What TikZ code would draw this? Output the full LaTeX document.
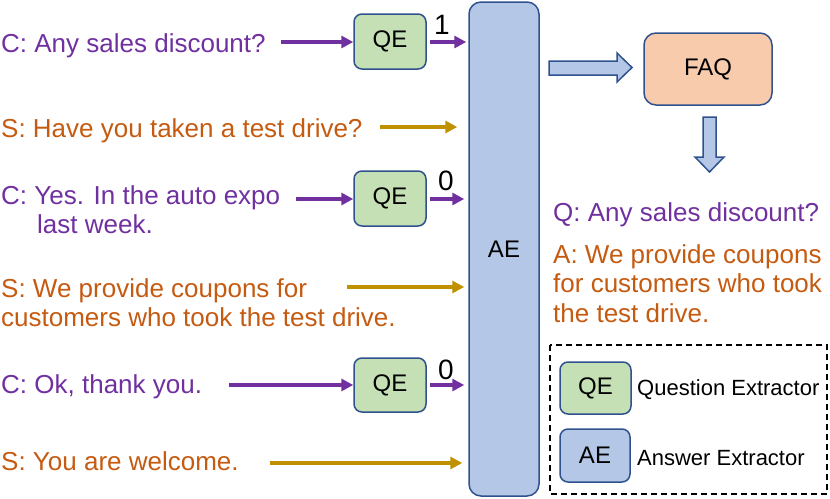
\documentclass[tikz,border=0pt]{standalone}
\usepackage{fontspec}
\setmainfont{Liberation Sans}
\usetikzlibrary{arrows.meta}
\definecolor{pur}{HTML}{7030A0}
\definecolor{org}{HTML}{C55A11}
\definecolor{gld}{HTML}{BF9000}
\definecolor{bdr}{HTML}{2F528F}
\definecolor{aefill}{HTML}{B4C7E7}
\definecolor{qefill}{HTML}{C5E0B4}
\definecolor{faqfill}{HTML}{F8CBAD}
\begin{document}
\begin{tikzpicture}[x=1pt,y=-1pt,
  ctext/.style={anchor=base west, inner sep=0pt, text=pur, font=\fontsize{26}{30}\selectfont},
  stext/.style={anchor=base west, inner sep=0pt, text=org, font=\fontsize{26}{30}\selectfont},
  qebox/.style={draw=bdr, fill=qefill, line width=1.5pt, rounded corners=8pt, minimum width=72pt, minimum height=55pt, inner sep=0pt, font=\fontsize{24}{28}\selectfont},
  aebox/.style={draw=bdr, fill=aefill, line width=1.5pt, rounded corners=12pt, inner sep=0pt, font=\fontsize{24}{28}\selectfont},
  faqbox/.style={draw=bdr, fill=faqfill, line width=1.5pt, rounded corners=12pt, inner sep=0pt, font=\fontsize{24}{28}\selectfont},
  parrow/.style={draw=pur, line width=4pt, -{Triangle[length=12pt,width=12pt]}},
  garrow/.style={draw=gld, line width=3.5pt, -{Triangle[length=12pt,width=12pt]}},
  digit/.style={inner sep=0pt, font=\fontsize{28}{30}\selectfont},
  blockarrow/.style={draw=bdr, fill=aefill, line width=1.5pt, line join=miter},
  legtext/.style={anchor=west, inner sep=0pt, font=\fontsize{22}{26}\selectfont}
]
\useasboundingbox (0,0) rectangle (830,498);

% AE column
\node[aebox, minimum width=70pt, minimum height=494pt] (ae) at (504,249) {AE};

% QE boxes
\node[qebox] (qe1) at (390,41.5) {QE};
\node[qebox] (qe2) at (390,198.5) {QE};
\node[qebox, minimum height=54pt] (qe3) at (390,385) {QE};

% dialogue texts
\node[ctext] (c1) at (1,52) {C: Any sales discount?};
\node[stext] (s1) at (1,137) {S: Have you taken a test drive?};
\node[ctext] (c2a) at (1,204) {C: Yes. In the auto expo};
\node[ctext] (c2b) at (37,233) {last week.};
\node[stext] (s2a) at (1,297) {S: We provide coupons for};
\node[stext] (s2b) at (1,326) {customers who took the test drive.};
\node[ctext] (c3) at (1,393) {C: Ok, thank you.};
\node[stext] (s3) at (1,470) {S: You are welcome.};

% arrow start points
\coordinate (pc1) at (281,42);
\coordinate (pc2) at (296,199);
\coordinate (pc3) at (229,385);
\coordinate (gs1) at (380,127);
\coordinate (gs2) at (347,287);
\coordinate (gs3) at (270,463);

% purple arrows into QE
\draw[parrow] (pc1) -- (pc1 -| qe1.west);
\draw[parrow] (pc2) -- (pc2 -| qe2.west);
\draw[parrow] (pc3) -- (pc3 -| qe3.west);

% QE to AE
\draw[parrow] ([xshift=3pt]qe1.east |- pc1) -- ([xshift=-2pt]ae.west |- pc1);
\draw[parrow] ([xshift=3pt]qe2.east |- pc2) -- ([xshift=-4pt]ae.west |- pc2);
\draw[parrow] ([xshift=3pt]qe3.east |- pc3) -- ([xshift=-4pt]ae.west |- pc3);

% digits
\node[digit] (d1) at (442,25) {1};
\node[digit] (d2) at (446,181) {0};
\node[digit] (d3) at (446,370) {0};

% gold arrows into AE
\draw[garrow] (gs1) -- ([xshift=-11pt]ae.west |- gs1);
\draw[garrow] (gs2) -- ([xshift=-4pt]ae.west |- gs2);
\draw[garrow] (gs3) -- ([xshift=-6pt]ae.west |- gs3);

% FAQ
\node[faqbox, minimum width=128pt, minimum height=72pt] (faq) at (708,69) {FAQ};

% block arrows
\draw[blockarrow] (549,61) -- (617,61) -- (617,53) -- (632,67.5) -- (617,82) -- (617,75) -- (549,75) -- cycle;
\draw[blockarrow] (703,117) -- (716,117) -- (716,157) -- (724,157) -- (709.5,172) -- (695,157) -- (703,157) -- cycle;

% result texts
\node[ctext] (q) at (553,221) {Q: Any sales discount?};
\node[stext] (a1) at (553,263) {A: We provide coupons};
\node[stext] (a2) at (553,292) {for customers who took};
\node[stext] (a3) at (553,322) {the test drive.};

% legend
\draw[black, line width=1.5pt, dash pattern=on 6pt off 4pt] (550,345) rectangle (827,494);
\node[qebox, minimum width=71pt, minimum height=52pt] (lqe) at (595.5,388) {QE};
\node[aebox, rounded corners=8pt, minimum width=70pt, minimum height=53pt] (lae) at (595,455.5) {AE};
\node[legtext] (lqt) at (637,390) {Question Extractor};
\node[legtext] (lat) at (637,458) {Answer Extractor};
\end{tikzpicture}
\end{document}
